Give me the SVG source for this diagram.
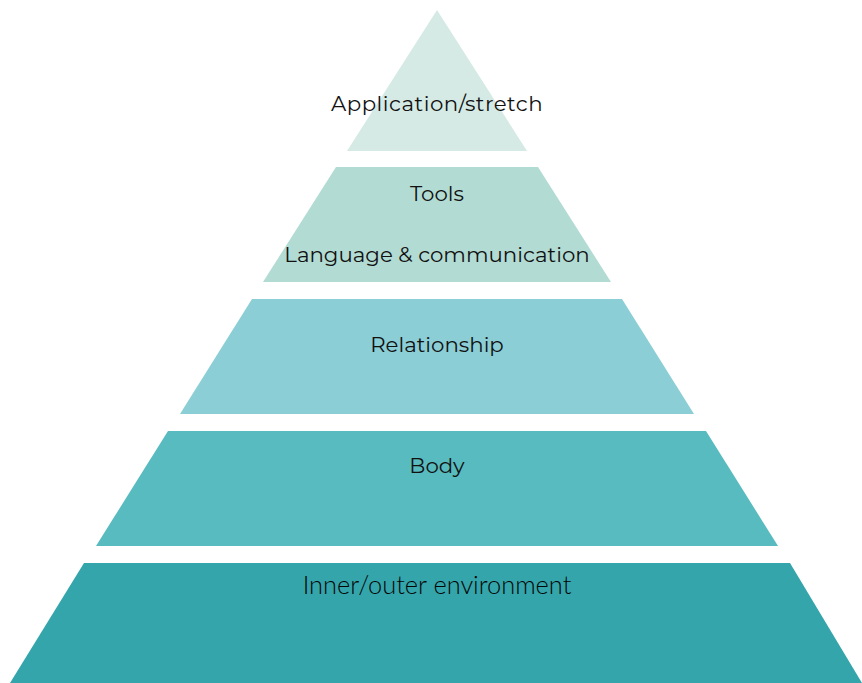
<svg xmlns="http://www.w3.org/2000/svg" width="862" height="683" viewBox="0 0 862 683">
<style>
.lbl{font-family:"Montserrat","Inter","Liberation Sans",sans-serif;font-size:21.3px;fill:#111111;text-anchor:middle}
.lbl2{font-family:"Lato","Liberation Sans",sans-serif;font-size:25.4px;font-weight:300;fill:#050505;text-anchor:middle}
</style>
<rect width="862" height="683" fill="#ffffff"/>
<g id="level5">
<polygon points="437,10 527,151 347,151" fill="#d5eae4"/>
<text class="lbl" x="437" y="111" style="letter-spacing:0.5px">Application/stretch</text>
</g>
<g id="level4">
<polygon points="336,167 538,167 611,282 263,282" fill="#b2dbd3"/>
<text class="lbl" x="437" y="201">Tools</text>
<text class="lbl" x="437" y="262">Language &amp; communication</text>
</g>
<g id="level3">
<polygon points="252,299 622,299 694,414 180,414" fill="#8bced5"/>
<text class="lbl" x="437" y="352">Relationship</text>
</g>
<g id="level2">
<polygon points="168,431 706,431 778,546 96,546" fill="#58bbc0"/>
<text class="lbl" x="437" y="473">Body</text>
</g>
<g id="level1">
<polygon points="84,563 790,563 862,683 10,683" fill="#33a5ab"/>
<text class="lbl2" x="437" y="594">Inner/outer environment</text>
</g>
<g id="connectors"/>
</svg>
